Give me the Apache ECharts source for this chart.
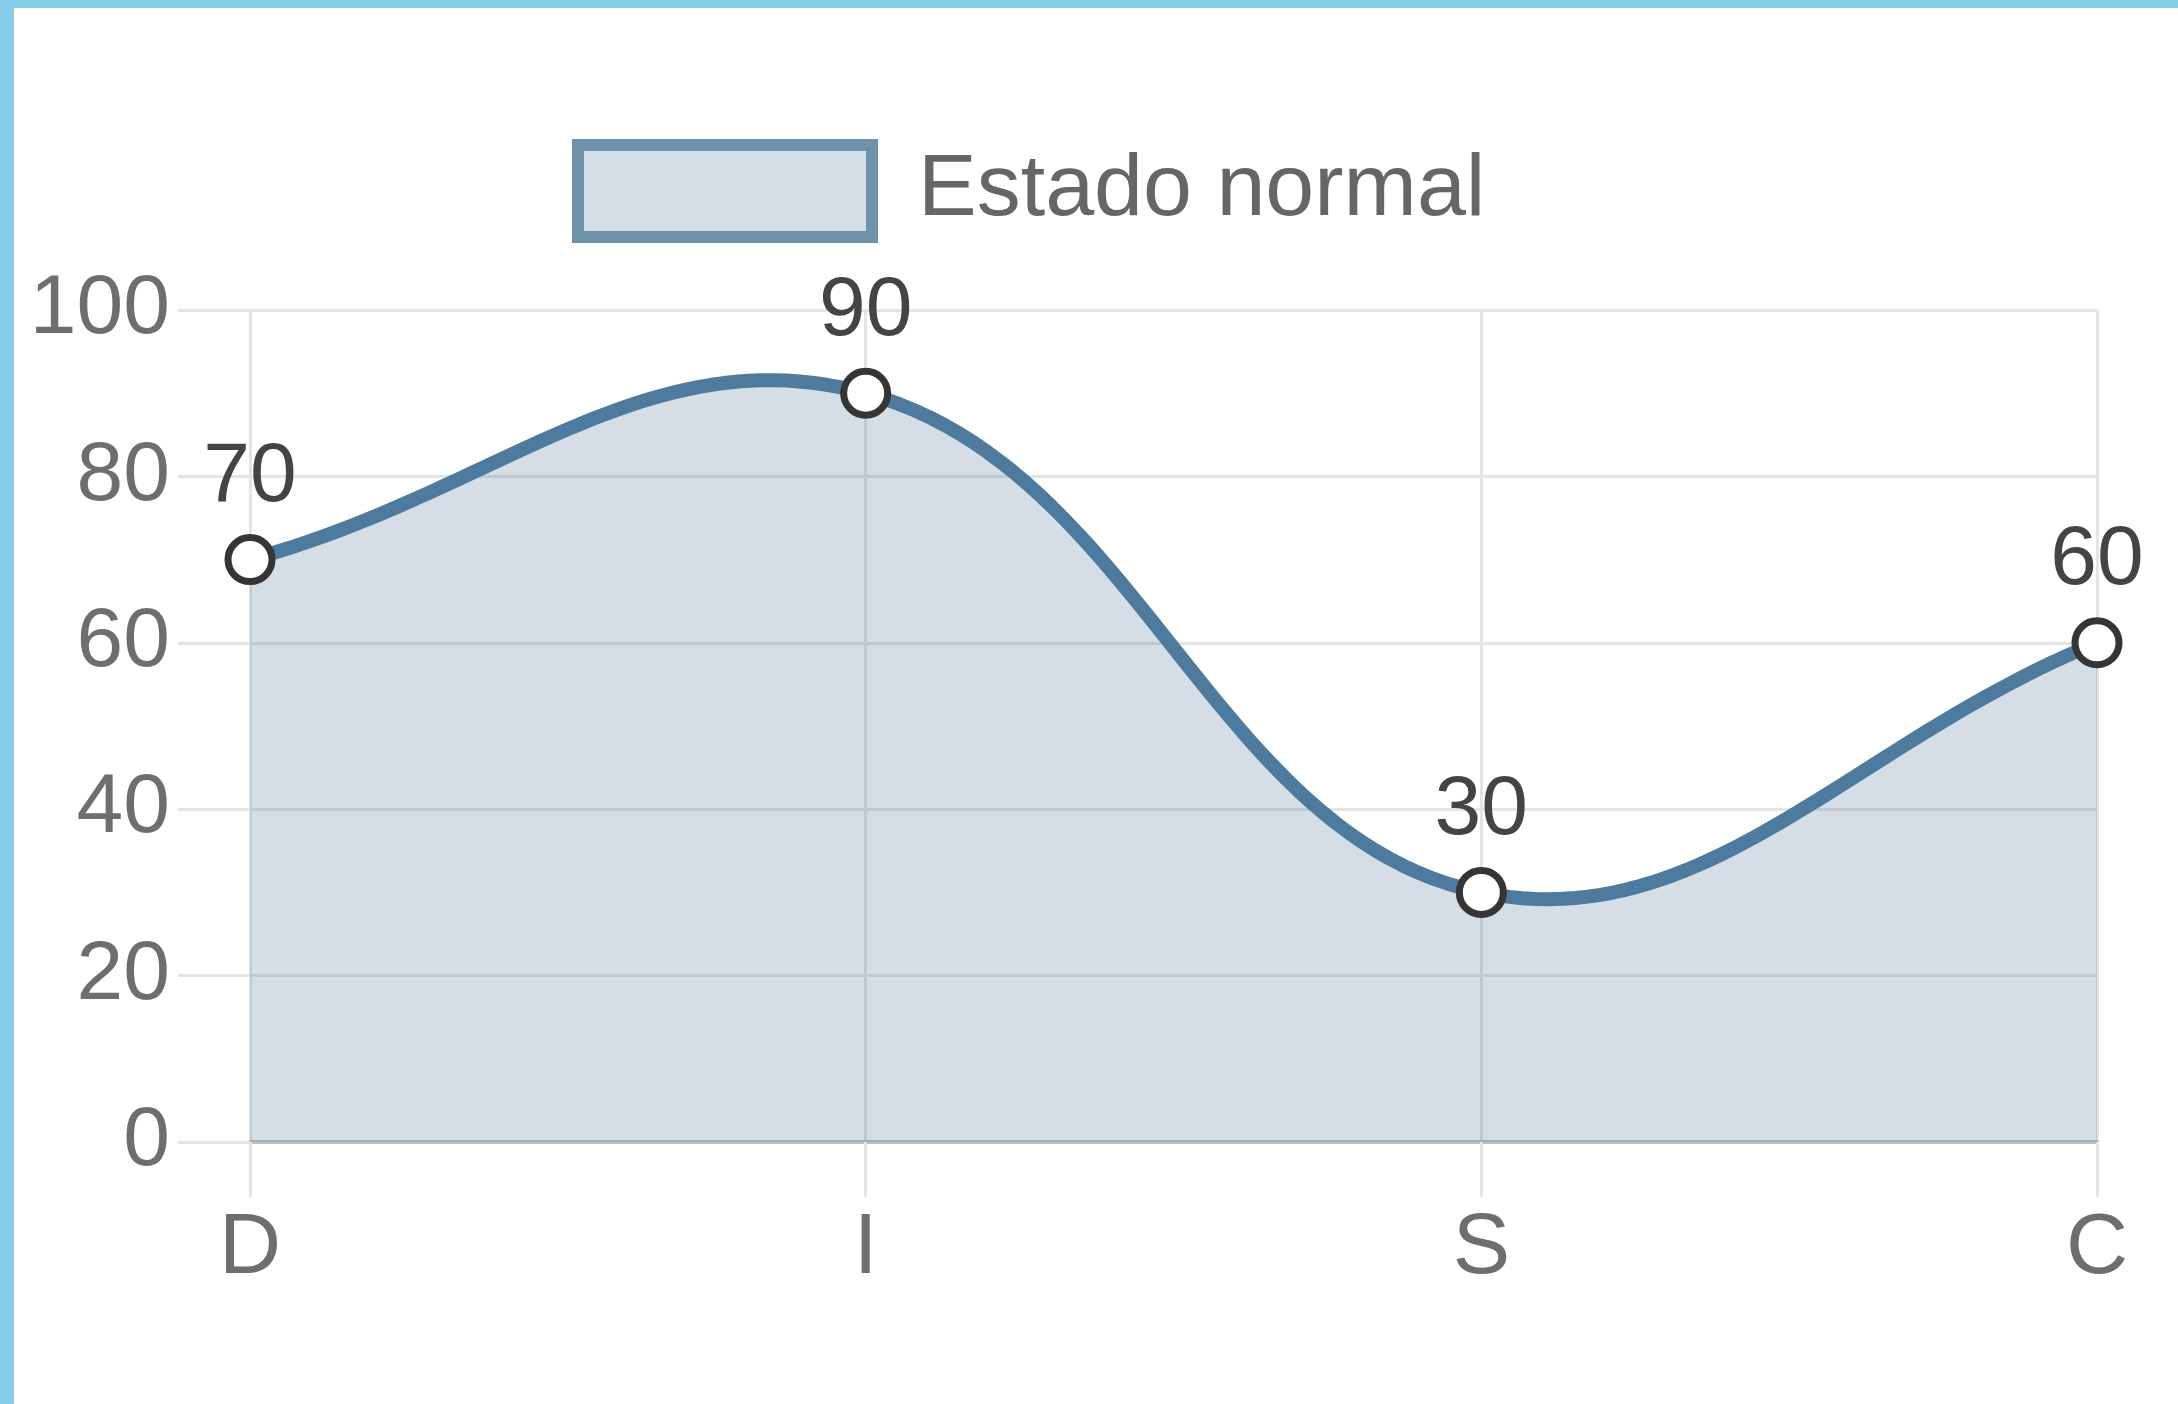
<!DOCTYPE html>
<html>
<head>
<meta charset="utf-8">
<script src="https://cdn.jsdelivr.net/npm/echarts@6/dist/echarts.min.js"></script>
<style>
  html, body { margin: 0; padding: 0; background: #ffffff; }
  #chart { position: absolute; left: 0; top: 0; width: 2178px; height: 1404px; }
  .edge { position: absolute; background: #86cdea; z-index: 5; }
  #edgeLeft { left: 0; top: 0; width: 14px; height: 1404px; }
  #edgeTop { left: 0; top: 0; width: 2178px; height: 8px; }
</style>
</head>
<body>
<div id="chart"></div>
<div class="edge" id="edgeLeft"></div>
<div class="edge" id="edgeTop"></div>
<script>
// DISC profile categories and the scores of the "Estado normal" state
const categories = ['D', 'I', 'S', 'C'];
const estadoNormal = [70, 90, 30, 60];
const seriesName = 'Estado normal';

// value axis range
const yMin = 0;
const yMax = 100;
const yStep = 20;

const font = '"Liberation Sans", Arial, sans-serif';
const gridColor = '#e4e4e4';
const lineColor = '#4d7a9d';
const areaColor = 'rgba(65, 105, 140, 0.22)';
const tension = 0.4;          // cardinal-spline tension of the curve
const samplesPerSegment = 48; // points used to trace each bezier segment

// Cardinal spline control points (prev/next handles for every point),
// clamped to the plotting rectangle.
function splineControls(pts, t, rect) {
  const clampX = v => Math.max(rect.x, Math.min(rect.x + rect.width, v));
  const clampY = v => Math.max(rect.y, Math.min(rect.y + rect.height, v));
  return pts.map((cur, i) => {
    const prev = pts[i - 1] || cur;
    const next = pts[i + 1] || cur;
    const d01 = Math.hypot(cur[0] - prev[0], cur[1] - prev[1]);
    const d12 = Math.hypot(next[0] - cur[0], next[1] - cur[1]);
    let s01 = d01 / (d01 + d12);
    let s12 = d12 / (d01 + d12);
    if (!isFinite(s01)) s01 = 0;
    if (!isFinite(s12)) s12 = 0;
    const fa = t * s01;
    const fb = t * s12;
    return {
      before: [clampX(cur[0] - fa * (next[0] - prev[0])), clampY(cur[1] - fa * (next[1] - prev[1]))],
      after: [clampX(cur[0] + fb * (next[0] - prev[0])), clampY(cur[1] + fb * (next[1] - prev[1]))]
    };
  });
}

function bezierPoint(p0, p1, p2, p3, u) {
  const a = (1 - u) * (1 - u) * (1 - u);
  const b = 3 * (1 - u) * (1 - u) * u;
  const c = 3 * (1 - u) * u * u;
  const d = u * u * u;
  return [a * p0[0] + b * p1[0] + c * p2[0] + d * p3[0],
          a * p0[1] + b * p1[1] + c * p2[1] + d * p3[1]];
}

// Draws the smoothed line and its filled area from the data through the axes.
function renderCurve(params, api) {
  if (params.dataIndex !== 0) return null;
  const pts = estadoNormal.map((v, i) => api.coord([i, v]));
  const rect = params.coordSys;
  const ctrl = splineControls(pts, tension, rect);
  const curve = [pts[0]];
  for (let i = 0; i < pts.length - 1; i++) {
    for (let k = 1; k <= samplesPerSegment; k++) {
      curve.push(bezierPoint(pts[i], ctrl[i].after, ctrl[i + 1].before, pts[i + 1], k / samplesPerSegment));
    }
  }
  const base = api.coord([0, yMin])[1];
  const area = curve.concat([[pts[pts.length - 1][0], base], [pts[0][0], base]]);
  return {
    type: 'group',
    children: [
      { type: 'polygon', shape: { points: area }, style: { fill: areaColor, stroke: null } },
      { type: 'polyline', shape: { points: curve },
        style: { fill: null, stroke: lineColor, lineWidth: 14, lineJoin: 'round', lineCap: 'round' } }
    ]
  };
}

const chart = echarts.init(document.getElementById('chart'), null, { renderer: 'canvas' });

chart.setOption({
  animation: false,
  backgroundColor: '#ffffff',
  legend: {
    left: 572,
    top: 139,
    padding: 0,
    icon: 'rect',
    itemWidth: 294,
    itemHeight: 92,
    itemStyle: { color: '#d5dee6', borderColor: '#6e91ac', borderWidth: 12 },
    textStyle: { fontSize: 88, color: '#666666', fontFamily: font, padding: [0, 0, 0, 41] },
    data: [seriesName]
  },
  grid: { left: 250, right: 81, top: 310, bottom: 262, containLabel: false },
  xAxis: {
    type: 'category',
    data: categories,
    boundaryGap: false,
    axisLine: { show: true, lineStyle: { color: '#c0c0c0', width: 4 } },
    axisTick: { show: true, length: 55, lineStyle: { color: gridColor, width: 3 } },
    splitLine: { show: true, lineStyle: { color: gridColor, width: 3 } },
    axisLabel: { fontSize: 86, color: '#6e6e6e', fontFamily: font, margin: 64 }
  },
  yAxis: {
    type: 'value',
    min: yMin,
    max: yMax,
    interval: yStep,
    axisLine: { show: false },
    axisTick: { show: true, length: 72, lineStyle: { color: gridColor, width: 3 } },
    splitLine: { show: true, lineStyle: { color: gridColor, width: 3 } },
    axisLabel: { fontSize: 84, color: '#6e6e6e', fontFamily: font, margin: 80, padding: [0, 0, 26, 0] }
  },
  series: [
    {
      type: 'custom',
      renderItem: renderCurve,
      data: estadoNormal.map((v, i) => [i, v]),
      encode: { x: 0, y: 1 },
      silent: true,
      z: 2
    },
    {
      name: seriesName,
      type: 'line',
      data: estadoNormal,
      symbol: 'circle',
      symbolSize: 44,
      lineStyle: { opacity: 0 },
      itemStyle: { color: '#ffffff', borderColor: '#353535', borderWidth: 7 },
      label: {
        show: true,
        position: 'top',
        distance: 14,
        fontSize: 84,
        color: '#444444',
        fontFamily: font
      },
      z: 3
    }
  ]
});
</script>
</body>
</html>
